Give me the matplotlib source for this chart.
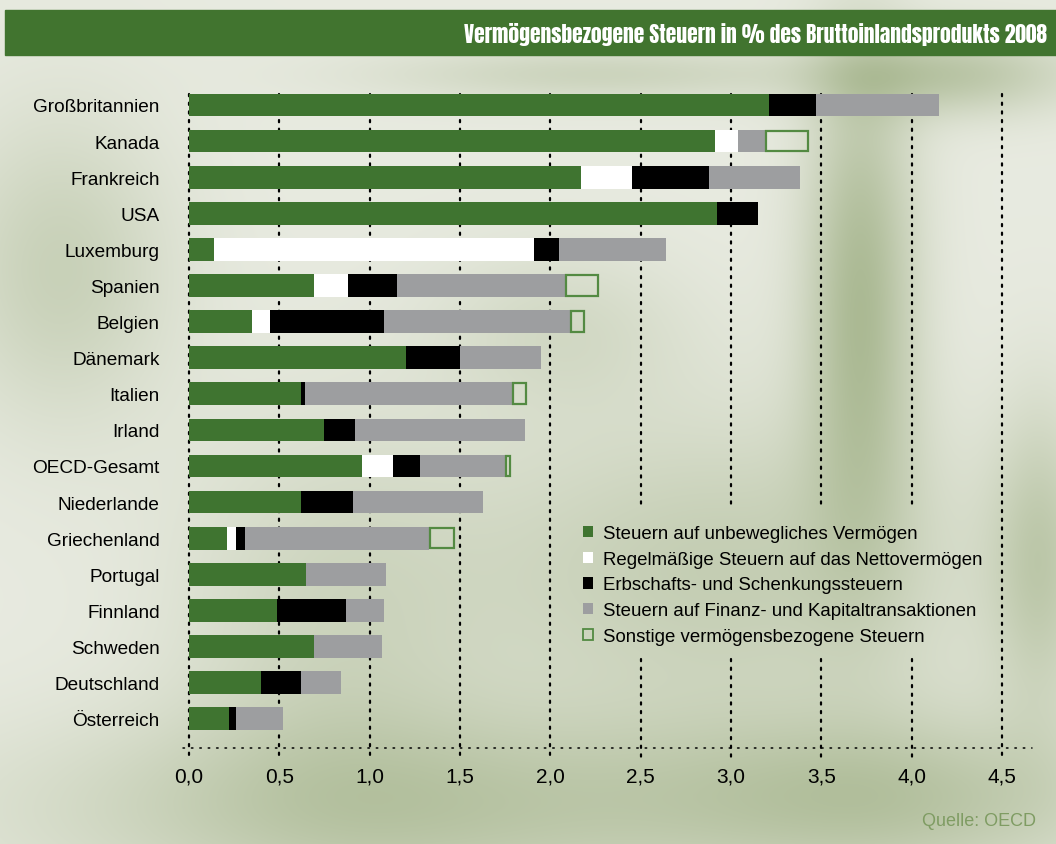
import numpy as np
import matplotlib
matplotlib.use("Agg")
import matplotlib.pyplot as plt
from matplotlib.patches import Rectangle, Patch

# ── data (Anteil am BIP, %) ─────────────────────────────────
countries = ["Großbritannien", "Kanada", "Frankreich", "USA", "Luxemburg",
             "Spanien", "Belgien", "Dänemark", "Italien", "Irland",
             "OECD-Gesamt", "Niederlande", "Griechenland", "Portugal",
             "Finnland", "Schweden", "Deutschland", "Österreich"]
immobil   = [3.21, 2.91, 2.17, 2.92, 0.14, 0.69, 0.35, 1.20, 0.62, 0.75,
             0.96, 0.62, 0.21, 0.65, 0.49, 0.69, 0.40, 0.22]
netto     = [0.00, 0.13, 0.28, 0.00, 1.77, 0.19, 0.10, 0.00, 0.00, 0.00,
             0.17, 0.00, 0.05, 0.00, 0.00, 0.00, 0.00, 0.00]
erbschaft = [0.26, 0.00, 0.43, 0.23, 0.14, 0.27, 0.63, 0.30, 0.02, 0.17,
             0.15, 0.29, 0.05, 0.00, 0.38, 0.00, 0.22, 0.04]
finanz    = [0.68, 0.15, 0.50, 0.00, 0.59, 0.93, 1.03, 0.45, 1.15, 0.94,
             0.47, 0.72, 1.02, 0.44, 0.21, 0.38, 0.22, 0.26]
sonstige  = [0.00, 0.24, 0.00, 0.00, 0.00, 0.19, 0.08, 0.00, 0.08, 0.00,
             0.03, 0.00, 0.14, 0.00, 0.00, 0.00, 0.00, 0.00]
series_labels = ["Steuern auf unbewegliches Vermögen",
                 "Regelmäßige Steuern auf das Nettovermögen",
                 "Erbschafts- und Schenkungssteuern",
                 "Steuern auf Finanz- und Kapitaltransaktionen",
                 "Sonstige vermögensbezogene Steuern"]
xticks = [0.0, 0.5, 1.0, 1.5, 2.0, 2.5, 3.0, 3.5, 4.0, 4.5]

GREEN = "#3f7430"
GRAY = "#9d9ea0"
OUTLINE = "#538a42"
CONDENSED = ["Anton", "Oswald", "Fjalla One", "Roboto Condensed", "DejaVu Sans"]
ARIAL = ["Liberation Sans", "Arimo", "DejaVu Sans"]

fig = plt.figure(figsize=(10.56, 8.45), dpi=100)
W, H = 1056, 845

# ── blurred greenish background ────────────────────────────
bg = fig.add_axes([0, 0, 1, 1], zorder=-10)
bg.axis("off")
yy, xx = np.mgrid[0:H, 0:W]
dark = np.zeros((H, W))
blobs = [(860, 300, 40, 170, 0.75), (950, 75, 90, 30, 0.55), (600, 75, 160, 20, 0.35),
         (720, 570, 190, 110, 0.45), (420, 810, 280, 70, 0.55), (900, 800, 160, 60, 0.5),
         (60, 270, 80, 110, 0.4), (330, 620, 110, 140, 0.3), (1040, 560, 35, 110, 0.45),
         (560, 330, 90, 60, 0.25)]
for cx, cy, sx, sy, a in blobs:
    dark += a * np.exp(-((xx - cx) ** 2 / (2 * sx ** 2) + (yy - cy) ** 2 / (2 * sy ** 2)))
dark = np.clip(dark, 0, 1)
light = np.array([0.91, 0.92, 0.88])
deep = np.array([0.60, 0.67, 0.49])
bg.imshow(light + (deep - light) * dark[..., None], extent=[0, 1, 0, 1], aspect="auto")

# header band
bg.add_patch(Rectangle((5 / W, 1 - 56 / H), 1, 45 / H, color="#41742f",
                       transform=bg.transAxes))
title = bg.text(1047 / W, 1 - 35 / H,
                "Vermögensbezogene Steuern in % des Bruttoinlandsprodukts 2008",
                color="white", fontsize=16, family=CONDENSED,
                ha="right", va="center", transform=bg.transAxes)
renderer = fig.canvas.get_renderer()
tw = title.get_window_extent(renderer).width
title.set_fontsize(16 * 582 / tw)

bg.text(1036 / W, 1 - 822 / H, "Quelle: OECD", color="#7f9c63", fontsize=13,
        family=ARIAL, ha="right", va="center", transform=bg.transAxes)

# ── main chart ─────────────────────────────────────────────
ax = fig.add_axes([0.1618, 0.0799, 0.8299, 0.8289])
ax.patch.set_alpha(0)
for s in ax.spines.values():
    s.set_visible(False)
ax.set_xlim(-0.1, 4.75)
ax.set_ylim(18.6, -0.8)

y = np.arange(len(countries))
hb = 0.63
left = np.zeros(len(countries))
ax.barh(y, immobil, left=left, height=hb, color=GREEN, zorder=3)
left += immobil
ax.barh(y, netto, left=left, height=hb, color="white", zorder=3)
left += netto
ax.barh(y, erbschaft, left=left, height=hb, color="black", zorder=3)
left += erbschaft
ax.barh(y, finanz, left=left, height=hb, color=GRAY, zorder=3)
left += finanz
for yi, l, v in zip(y, left, sonstige):
    if v > 0:
        ax.add_patch(Rectangle((l + 0.005, yi - hb / 2 + 0.03), v - 0.01, hb - 0.06,
                               fill=False, edgecolor=OUTLINE, lw=1.6, zorder=3))

ax.set_xticks([])
ax.set_yticks(y)
ax.set_yticklabels(countries, family=ARIAL, fontsize=13.7)
ax.tick_params(axis="y", length=0, pad=8)
for t in xticks:
    ax.text(t, 18.58, f"{t:.1f}".replace(".", ","), ha="center", va="center",
            fontsize=15, family=ARIAL)

handles = [Patch(facecolor=GREEN, edgecolor="none"),
           Patch(facecolor="white", edgecolor="none"),
           Patch(facecolor="black", edgecolor="none"),
           Patch(facecolor=GRAY, edgecolor="none"),
           Patch(facecolor="none", edgecolor=OUTLINE, lw=1.3)]
leg = ax.legend(handles, series_labels, loc="upper left",
                bbox_to_anchor=(583 / W, 1 - 526 / H), bbox_transform=fig.transFigure,
                frameon=False, prop={"family": ARIAL, "size": 13.4}, borderpad=0,
                handlelength=0.55, handleheight=0.55, handletextpad=0.55,
                labelspacing=0.47, borderaxespad=0)

# legend area in data units: the dotted grid is interrupted there
lb = leg.get_window_extent(fig.canvas.get_renderer())
inv = ax.transData.inverted()
(gx0, gy0), (gx1, gy1) = inv.transform([(lb.x0 - 10, lb.y0 - 14), (lb.x1 + 10, lb.y1 + 16)])
gap_top, gap_bot = min(gy0, gy1), max(gy0, gy1)

# dotted grid
dot = dict(color="black", lw=1.6, ls=(0, (1, 2.9)), dash_capstyle="round", zorder=1)
for t in xticks:
    if gx0 <= t <= gx1:
        ax.plot([t, t], [-0.3, gap_top], **dot)
        ax.plot([t, t], [gap_bot, 18.17], **dot)
    else:
        ax.plot([t, t], [-0.3, 18.17], **dot)
ax.plot([-0.033, 4.666], [17.81, 17.81], color="black", lw=1.1,
        ls=(0, (1, 4.5)), dash_capstyle="round", zorder=1)

plt.savefig("out.png", dpi=100)
